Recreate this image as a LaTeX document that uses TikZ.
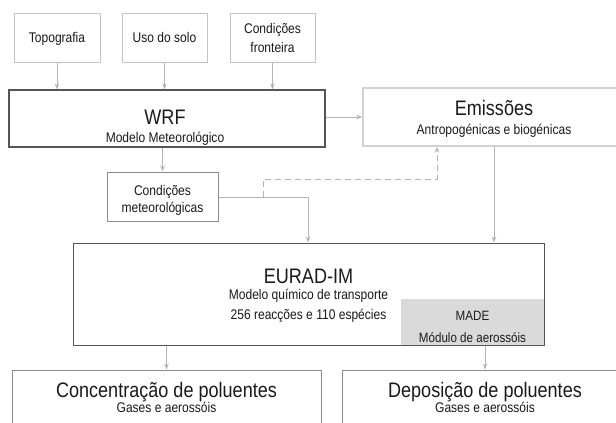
\documentclass[tikz,border=0pt]{standalone}
\usepackage{fontspec}
\setmainfont{Liberation Sans}[FakeStretch=0.86]
\usetikzlibrary{arrows.meta,calc}
\definecolor{txt}{HTML}{1A1A1A}
\definecolor{lightb}{HTML}{C4C4C4}
\definecolor{emisb}{HTML}{D2D2D2}
\definecolor{midb}{HTML}{8C8C8C}
\definecolor{darkb}{HTML}{555555}
\definecolor{arrc}{HTML}{B4B4B4}
\definecolor{madef}{HTML}{DADADA}
\tikzset{
  box/.style={draw, rectangle, inner sep=0pt, anchor=center, line width=1pt},
  big/.style={text=txt, anchor=base, inner sep=0pt, font=\fontsize{21}{25}\selectfont},
  small/.style={text=txt, anchor=base, inner sep=0pt, font=\fontsize{14}{17}\selectfont},
  smaller/.style={text=txt, anchor=base, inner sep=0pt, font=\fontsize{13.5}{16}\selectfont},
  arr/.style={draw=arrc, line width=1pt, -{Stealth[length=6pt,width=4.5pt]}},
  dasharr/.style={draw=arrc, line width=1pt, dash pattern=on 6pt off 4pt, -{Stealth[length=6pt,width=4.5pt]}},
  plain/.style={draw=arrc, line width=1pt}
}
\begin{document}
\begin{tikzpicture}[x=1pt,y=-1pt]
\useasboundingbox (0,0) rectangle (616,423);
\fill[white] (0,0) rectangle (616,423);
\clip (0,0) rectangle (616,423);
% input boxes
\node[box, draw=lightb, minimum width=86pt, minimum height=49pt] (topo) at (57,37.5) {};
\node[box, draw=lightb, minimum width=85pt, minimum height=49pt] (uso) at (164.5,37.5) {};
\node[box, draw=lightb, minimum width=85pt, minimum height=49pt] (cfr) at (272.5,37.5) {};
\node[small] (topoT) at (57,42) {Topografia};
\node[small] (usoT) at (164.5,42) {Uso do solo};
\node[small] (cfrT1) at (272.5,34) {Condições};
\node[small] (cfrT2) at (272.5,52) {fronteira};
% WRF
\node[box, draw=darkb, line width=1.2pt, minimum width=316pt, minimum height=57pt] (wrf) at (167,118.5) {};
\node[big] (wrfT) at (165,124) {WRF};
\node[small] (wrfS) at (165,142) {Modelo Meteorológico};
% Emissoes
\node[box, draw=emisb, line width=1.5pt, minimum width=262pt, minimum height=58pt] (emis) at (494,117) {};
\node[big] (emisT) at (494,115) {Emissões};
\node[small] (emisS) at (494,134) {Antropogénicas e biogénicas};
% Condicoes meteorologicas
\node[box, draw=midb, minimum width=111pt, minimum height=49pt] (cmet) at (162.5,196.5) {};
\node[small] (cmetT1) at (162.5,195) {Condições};
\node[small] (cmetT2) at (162.5,212) {meteorológicas};
% EURAD
\node[box, fill=madef, draw=none, minimum width=143pt, minimum height=46pt] (made) at (472.5,322) {};
\node[box, draw=darkb, minimum width=471pt, minimum height=102pt] (eurad) at (308.5,294) {};
\node[big] (euradT) at (308.5,283) {EURAD-IM};
\node[small] (euradS1) at (308.5,299) {Modelo químico de transporte};
\node[small] (euradS2) at (308.5,319) {256 reacções e 110 espécies};
\node[smaller] (madeT) at (472.5,320) {MADE};
\node[smaller] (madeS) at (472.5,342) {Módulo de aerossóis};
% outputs
\node[box, draw=midb, minimum width=309pt, minimum height=90pt] (conc) at (166.5,415) {};
\node[big] (concT) at (166.5,397) {Concentração de poluentes};
\node[small] (concS) at (166.5,412) {Gases e aerossóis};
\node[box, draw=midb, minimum width=286pt, minimum height=90pt] (depo) at (485,415) {};
\node[big] (depoT) at (485,397) {Deposição de poluentes};
\node[small] (depoS) at (485,412) {Gases e aerossóis};
% connectors
\draw[arr] (topo.south) -- (topo.south |- wrf.north);
\draw[arr] (uso.south) -- (uso.south |- wrf.north);
\draw[arr] (cfr.south) -- (cfr.south |- wrf.north);
\draw[arr] (wrf.east |- emis.west) -- (emis.west);
\draw[arr] (cmet.north |- wrf.south) -- (cmet.north);
\coordinate (j) at (308,197);
\draw[arr] (cmet.east |- j) -| (j |- eurad.north);
\coordinate (d) at (263,197);
\coordinate (e) at (437,179);
\draw[dasharr] (d) |- (e) -- (e |- emis.south);
\draw[arr] (emis.south) -- (emis.south |- eurad.north);
\draw[arr] (conc.north |- eurad.south) -- (conc.north);
\draw[arr] (depo.north |- eurad.south) -- (depo.north);
\end{tikzpicture}
\end{document}
